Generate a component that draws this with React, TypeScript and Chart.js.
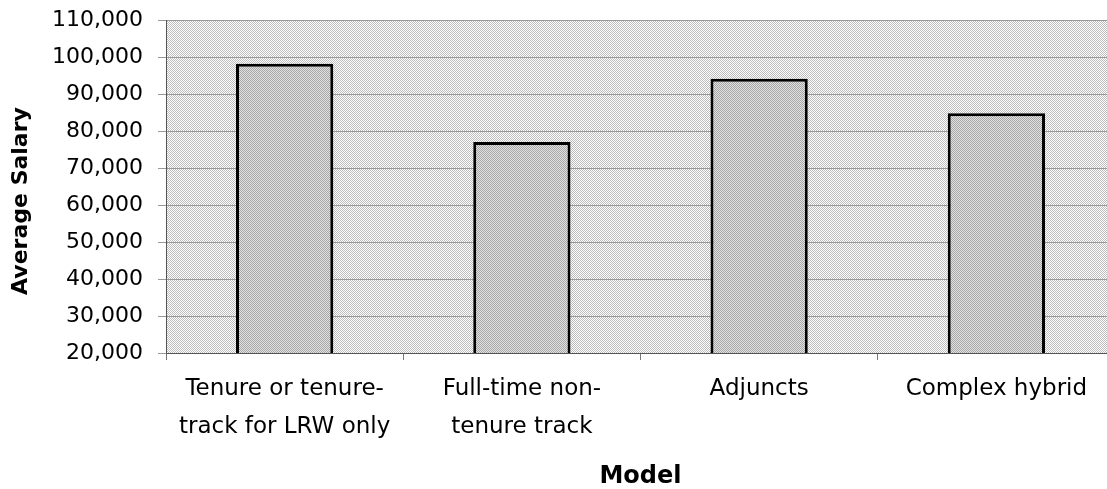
import React, { useEffect, useRef } from "react";
import { Chart, registerables } from "chart.js";

Chart.register(...registerables);

const categories: string[][] = [
  ["Tenure or tenure-", "track for LRW only"],
  ["Full-time non-", "tenure track"],
  ["Adjuncts"],
  ["Complex hybrid"],
];
const salaries: number[] = [98200, 77000, 94100, 84800];
const yMin = 20000;
const yMax = 110000;
const yStep = 10000;
const yTitle = "Average Salary";
const xTitle = "Model";

const FONT = "'DejaVu Sans', 'Liberation Sans', Arial, sans-serif";

function makePattern(ctx: CanvasRenderingContext2D, base: string, dot: string) {
  const c = document.createElement("canvas");
  c.width = 2;
  c.height = 2;
  const g = c.getContext("2d")!;
  g.fillStyle = base;
  g.fillRect(0, 0, 2, 2);
  g.fillStyle = dot;
  g.fillRect(0, 0, 1, 1);
  g.fillRect(1, 1, 1, 1);
  return ctx.createPattern(c, "repeat")!;
}

export default function App() {
  const ref = useRef<HTMLCanvasElement | null>(null);

  useEffect(() => {
    const canvas = ref.current!;
    const ctx = canvas.getContext("2d")!;
    const bgPattern = makePattern(ctx, "#ffffff", "#bcbcbc");
    const barPattern = makePattern(ctx, "#e2e2e2", "#a6a6a6");

    const bgPlugin = {
      id: "plotBg",
      beforeDraw(chart: any) {
        const { ctx: c, chartArea } = chart;
        if (!chartArea) return;
        c.save();
        c.fillStyle = bgPattern;
        c.fillRect(chartArea.left, chartArea.top, chartArea.right - chartArea.left, chartArea.bottom - chartArea.top);
        c.restore();
      },
    };

    const yTitlePlugin = {
      id: "yTitle",
      afterDraw(chart: any) {
        const c = chart.ctx;
        c.save();
        c.translate(21, 201);
        c.rotate(-Math.PI / 2);
        c.font = `bold 22px ${FONT}`;
        c.fillStyle = "#000";
        c.textAlign = "center";
        c.textBaseline = "middle";
        c.fillText(yTitle, 0, 0);
        c.restore();
      },
    };

    const chart = new Chart(canvas, {
      type: "bar",
      data: {
        labels: categories,
        datasets: [
          {
            data: salaries,
            backgroundColor: barPattern,
            borderColor: "#000",
            borderWidth: 3,
            borderSkipped: false,
            barPercentage: 0.41,
            categoryPercentage: 1,
          },
        ],
      },
      options: {
        responsive: false,
        animation: false,
        devicePixelRatio: 1,
        layout: { padding: { left: 0, top: 20, right: 5, bottom: 0 } },
        plugins: {
          legend: { display: false },
          tooltip: { enabled: false },
        },
        scales: {
          x: {
            afterFit: (s: any) => {
              s.height = 136;
            },
            grid: {
              display: true,
              drawOnChartArea: false,
              drawTicks: true,
              tickLength: 7,
              offset: true,
              color: "#777",
            },
            border: { display: true, color: "#555", width: 1 },
            ticks: {
              color: "#000",
              font: { family: FONT, size: 23, lineHeight: 1.65 },
              padding: 10,
              maxRotation: 0,
              autoSkip: false,
            },
            title: {
              display: true,
              text: xTitle,
              color: "#000",
              font: { family: FONT, size: 24, weight: "bold", lineHeight: 1 },
              padding: { top: 0, bottom: 0 },
            },
          },
          y: {
            min: yMin,
            max: yMax,
            afterFit: (s: any) => {
              s.width = 166;
              s.paddingTop = 0;
              s.paddingBottom = 0;
            },
            grid: {
              color: "#999",
              lineWidth: 1,
              drawTicks: true,
              tickLength: 8,
            },
            border: { display: true, color: "#555", width: 1 },
            ticks: {
              stepSize: yStep,
              color: "#000",
              font: { family: FONT, size: 22 },
              padding: 15,
              callback: (v: any) => Number(v).toLocaleString("en-US"),
            },
          },
        },
      },
      plugins: [bgPlugin, yTitlePlugin],
    });

    return () => chart.destroy();
  }, []);

  return (
    <div
      style={{
        position: "absolute",
        left: 0,
        top: 0,
        width: 1107,
        height: 489,
        overflow: "hidden",
        background: "#fff",
      }}
    >
      <canvas ref={ref} width={1120} height={489} style={{ width: "1120px", height: "489px", display: "block" }} />
    </div>
  );
}
